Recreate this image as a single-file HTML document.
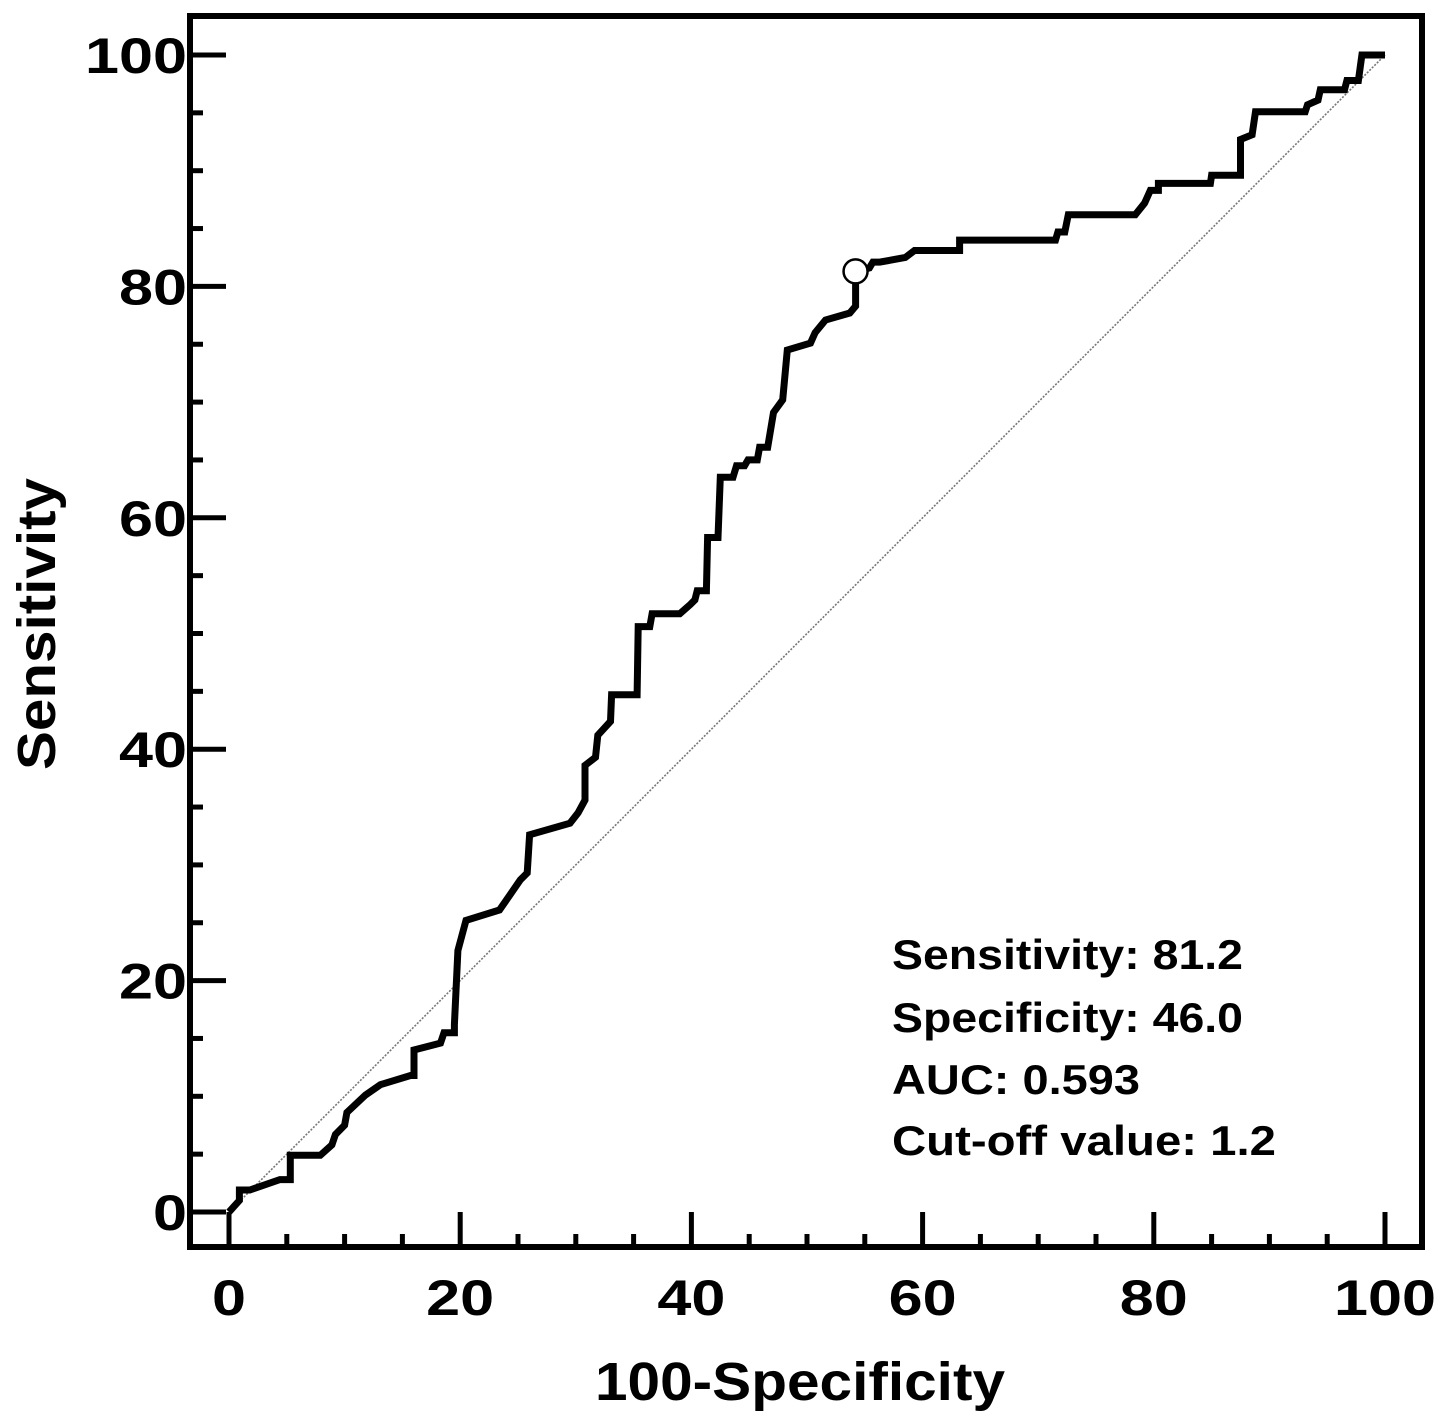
<!DOCTYPE html>
<html><head><meta charset="utf-8"><style>
html,body{margin:0;padding:0;background:#fff;}
svg{display:block;font-family:"Liberation Sans",Arial,sans-serif;font-weight:bold;}
</style></head><body>
<svg id="chart" width="1441" height="1424" viewBox="0 0 1441 1424">
<rect x="190" y="16" width="1232" height="1231" fill="none" stroke="#000" stroke-width="6"/>
<g id="ticks"></g>
<g id="marks"></g>
<text x="800" y="1400" font-size="54" text-anchor="middle" textLength="410" lengthAdjust="spacingAndGlyphs">100-Specificity</text>
<text transform="translate(55,624) rotate(-90)" font-size="54" text-anchor="middle" textLength="292" lengthAdjust="spacingAndGlyphs">Sensitivity</text>
<g font-size="42">
<text x="892" y="969" textLength="351" lengthAdjust="spacingAndGlyphs">Sensitivity: 81.2</text>
<text x="892" y="1032" textLength="351" lengthAdjust="spacingAndGlyphs">Specificity: 46.0</text>
<text x="892" y="1094" textLength="248" lengthAdjust="spacingAndGlyphs">AUC: 0.593</text>
<text x="892" y="1155" textLength="384" lengthAdjust="spacingAndGlyphs">Cut-off value: 1.2</text>
</g>
</svg>
<script>
const xData=[0,0.9,0.9,1.8,4.4,5.3,5.3,7.9,8.9,9.2,10.0,10.2,11.8,13.1,15.7,16.0,16.0,18.3,18.6,19.5,19.5,19.8,20.5,23.4,24.3,25.2,25.8,26.0,29.5,30.2,30.8,30.8,31.7,31.9,33.0,33.1,35.3,35.4,36.4,36.6,39.0,39.9,40.3,40.5,41.3,41.4,42.3,42.5,43.6,43.9,44.6,44.9,45.7,45.9,46.6,47.1,47.9,48.3,50.3,50.7,51.6,53.7,54.2,54.2,54.2,55.4,55.7,56.3,58.5,59.3,63.2,63.2,71.5,71.7,72.3,72.6,78.4,79.2,79.7,80.4,80.4,84.9,85.0,87.5,87.5,88.5,88.8,93.1,93.3,94.2,94.4,96.5,96.7,97.7,98.0,100];
const yData=[0,1.0,1.9,1.9,2.8,2.8,4.9,4.9,5.8,6.7,7.5,8.6,10.1,11.0,11.8,11.8,14.0,14.6,15.5,15.5,16.2,22.6,25.2,26.1,27.4,28.7,29.3,32.6,33.6,34.5,35.6,38.6,39.3,41.2,42.4,44.7,44.7,50.6,50.6,51.7,51.7,52.5,52.9,53.7,53.7,58.3,58.3,63.5,63.5,64.5,64.5,65.0,65.0,66.1,66.1,69.1,70.2,74.5,75.1,76.0,77.1,77.7,78.3,80.1,81.3,81.6,82.1,82.1,82.5,83.1,83.1,84.0,84.0,84.7,84.7,86.2,86.2,87.2,88.3,88.3,88.9,88.9,89.6,89.6,92.7,93.1,95.1,95.1,95.7,96.1,97.0,97.0,97.8,97.8,100,100];
const cutoffPoint=[54.2,81.3];
const tickLabels=[0,20,40,60,80,100];
const NS="http://www.w3.org/2000/svg";
const sx=v=>229+v*11.56, sy=v=>1212-v*11.57;
function mk(tag,attrs,parent){const e=document.createElementNS(NS,tag);for(const k in attrs)e.setAttribute(k,attrs[k]);parent.appendChild(e);return e;}
const tg=document.getElementById('ticks'), mg=document.getElementById('marks');
for(let v=0;v<=100;v+=5){
 const major=v%20===0;
 const yt=mk('line',{x1:190,x2:major?226:203,y1:sy(v),y2:sy(v),stroke:'#000','stroke-width':5},tg);
 
 
 const xt=mk('line',{x1:sx(v),x2:sx(v),y1:1247,y2:major?1212:1234,stroke:'#000','stroke-width':5},tg);
 
 
}
tickLabels.forEach(v=>{
 const w=String(v).length*34;
 const a=mk('text',{x:187,y:sy(v)+18,'font-size':50,'text-anchor':'end',textLength:w,lengthAdjust:'spacingAndGlyphs'},tg);a.textContent=v;
 
 
 const b=mk('text',{x:sx(v),y:1315,'font-size':50,'text-anchor':'middle',textLength:w,lengthAdjust:'spacingAndGlyphs'},tg);b.textContent=v;
 
 
});
const diag=mk('line',{x1:sx(0),y1:sy(0),x2:sx(100),y2:sy(100),stroke:'#777','stroke-width':1.6,'stroke-dasharray':'2 1.5'},mg);


const pts=xData.map((x,i)=>sx(x).toFixed(1)+','+sy(yData[i]).toFixed(1)).join(' ');
const roc=mk('polyline',{points:pts,fill:'none',stroke:'#000','stroke-width':7,'stroke-linejoin':'miter'},mg);


const c=mk('circle',{cx:sx(cutoffPoint[0]),cy:sy(cutoffPoint[1]),r:12,fill:'#fff',stroke:'#000','stroke-width':2.5},mg);


</script>
</body></html>
